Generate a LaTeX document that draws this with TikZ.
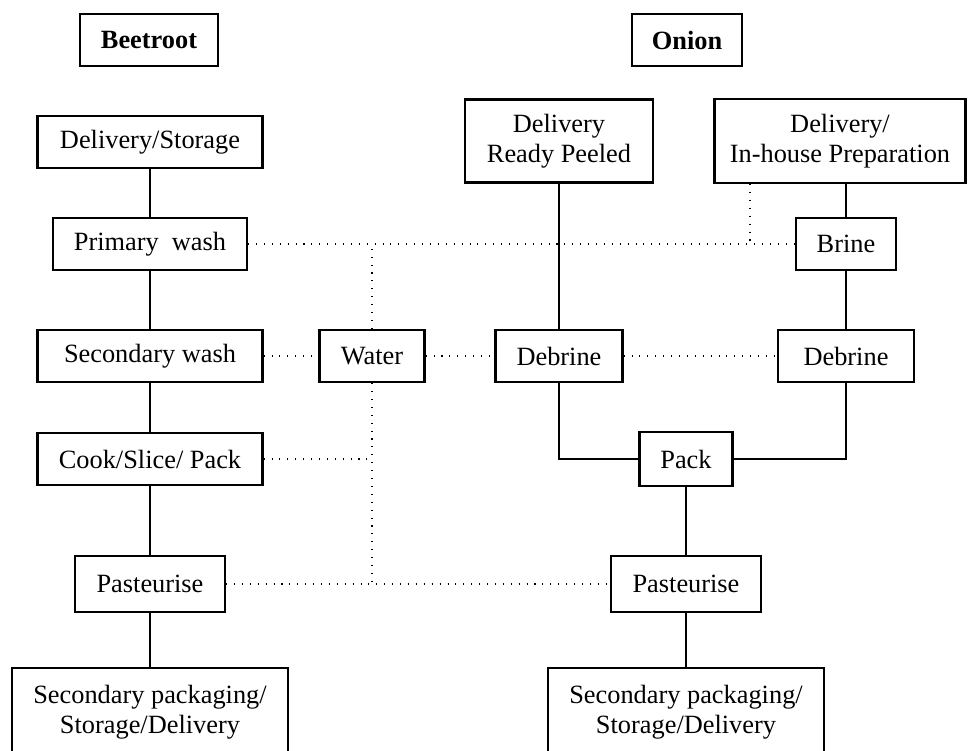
\documentclass[tikz,border=0pt]{standalone}
\usepackage{fontspec}
\setmainfont{Liberation Serif}
\begin{document}
\begin{tikzpicture}[x=0.02cm, y=-0.02cm,
                    stage/.style = {shape = rectangle,
                                    draw,
                                    line width = 1.3pt,
                                    align = center,
                                    inner sep = 0pt,
                                    minimum height = 1.04cm,
                                    font = \fontsize{15}{17}\selectfont},
                    link/.style = {line width = 1.1pt},
                    water/.style = {line width = 0.6pt,
                                    dash pattern = on 0.6pt off 3.9pt}]
		\clip (0,0) rectangle (968,751);
		% headings
		\node[stage, minimum width = 2.76cm, font = \fontsize{15}{17}\selectfont\bfseries] (beet) at (149,40) {Beetroot};
		\node[stage, minimum width = 2.2cm, font = \fontsize{15}{17}\selectfont\bfseries] (onion) at (687,40) {Onion};
		% beetroot line
		\node[stage, minimum width = 4.5cm] (dstore) at (150,142) {Delivery/Storage};
		\node[stage, minimum width = 3.88cm] (prim) at (150,244) {Primary~~wash};
		\node[stage, minimum width = 4.5cm] (sec) at (150,356) {Secondary wash};
		\node[stage, minimum width = 4.5cm] (cook) at (150,459) {Cook/Slice/ Pack};
		\node[stage, minimum width = 3cm, minimum height = 1.12cm] (past1) at (150,584) {Pasteurise};
		\node[stage, minimum width = 5.52cm, minimum height = 1.76cm] (pkg1) at (150,712) {Secondary packaging/\\Storage/Delivery};
		% onion line
		\node[stage, minimum width = 3.76cm, minimum height = 1.66cm] (dready) at (559,141) {Delivery\\Ready Peeled};
		\node[stage, minimum width = 5.02cm, minimum height = 1.68cm] (dhouse) at (840,141) {Delivery/\\In-house Preparation};
		\node[stage, minimum width = 2cm] (brine) at (846,244) {Brine};
		\node[stage, minimum width = 2.1cm] (water) at (372,356) {Water};
		\node[stage, minimum width = 2.54cm] (deb1) at (559,356) {Debrine};
		\node[stage, minimum width = 2.72cm] (deb2) at (846,356) {Debrine};
		\node[stage, minimum width = 1.86cm, minimum height = 1.08cm] (pack) at (686,459) {Pack};
		\node[stage, minimum width = 3cm, minimum height = 1.12cm] (past2) at (686,584) {Pasteurise};
		\node[stage, minimum width = 5.52cm, minimum height = 1.76cm] (pkg2) at (686,712) {Secondary packaging/\\Storage/Delivery};
		\coordinate (tap) at (750,244);
		% process flow
		\path[link] (dstore) edge (prim);
		\path[link] (prim) edge (sec);
		\path[link] (sec) edge (cook);
		\path[link] (cook) edge (past1);
		\path[link] (past1) edge (pkg1);
		\path[link] (dready) edge (deb1);
		\path[link] (dhouse.south -| brine) edge (brine);
		\path[link] (brine) edge (deb2);
		\draw[link] (deb1) |- (pack);
		\draw[link] (deb2) |- (pack);
		\path[link] (pack) edge (past2);
		\path[link] (past2) edge (pkg2);
		% water supply
		\draw[water] (prim) -- (brine);
		\draw[water] (tap |- dhouse.south) -- (tap);
		\draw[water] (sec) -- (water);
		\draw[water] (water) -- (deb1);
		\draw[water] (deb1) -- (deb2);
		\draw[water] (water.north) -- (water.north |- prim);
		\draw[water] (water.south) -- (water.south |- past1);
		\draw[water] (cook) -- (cook -| water);
		\draw[water] (past1) -- (past2);
	\end{tikzpicture}
\end{document}
